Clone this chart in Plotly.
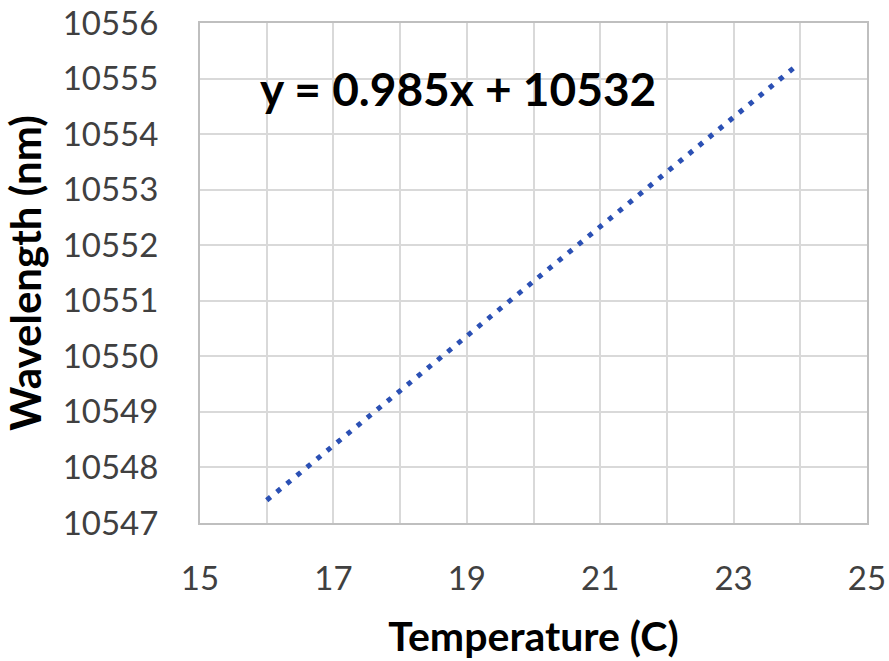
import numpy as np
import plotly.graph_objects as go

# Linear trendline of laser wavelength against temperature
temperature_c = [16.0, 23.9]
wavelength_nm = [10547.41, 10555.19]

x_ticks = [15, 17, 19, 21, 23, 25]
y_ticks = [10547, 10548, 10549, 10550, 10551, 10552, 10553, 10554, 10555, 10556]

slope, intercept = np.polyfit(temperature_c, wavelength_nm, 1)
equation = f"y = {slope:.3f}x + {intercept:.0f}"

FONT = "Lato"
GRID = "#d9d9d9"

fig = go.Figure()
fig.add_trace(go.Scatter(
    x=temperature_c,
    y=wavelength_nm,
    mode="lines",
    line=dict(color="#2b50b4", width=5, dash="5px,8px"),
    showlegend=False,
    hoverinfo="skip",
))

fig.add_annotation(
    x=18.87, y=10554.82, xref="x", yref="y",
    text=f"<b>{equation}</b>", showarrow=False,
    font=dict(family=FONT, size=46, color="#000000"),
)

fig.update_xaxes(
    range=[15, 25], tickvals=x_ticks, tickformat="d",
    showgrid=True, gridcolor=GRID, gridwidth=2,
    minor=dict(dtick=1, showgrid=True, gridcolor=GRID, gridwidth=2),
    showline=True, linecolor="#bfbfbf", linewidth=2, mirror=True,
    ticks="", ticklabelstandoff=25, zeroline=False, automargin=False,
    tickfont=dict(family=FONT, size=33, color="#404040"),
    title=dict(text="<b>Temperature (C)</b>", standoff=27,
               font=dict(family=FONT, size=41, color="#000000")),
)
fig.update_yaxes(
    range=[10547, 10556], tickvals=y_ticks, tickformat="d",
    showgrid=True, gridcolor=GRID, gridwidth=2,
    showline=True, linecolor="#bfbfbf", linewidth=2, mirror=True,
    ticks="", ticklabelstandoff=33, zeroline=False, automargin=False,
    tickfont=dict(family=FONT, size=33, color="#404040"),
    title=dict(text="<b>Wavelength (nm)</b>", standoff=22,
               font=dict(family=FONT, size=42, color="#000000")),
)

fig.update_layout(
    width=889, height=661,
    margin=dict(l=200, r=22, t=23, b=138),
    paper_bgcolor="white", plot_bgcolor="white",
)

fig.write_html("out.html")
